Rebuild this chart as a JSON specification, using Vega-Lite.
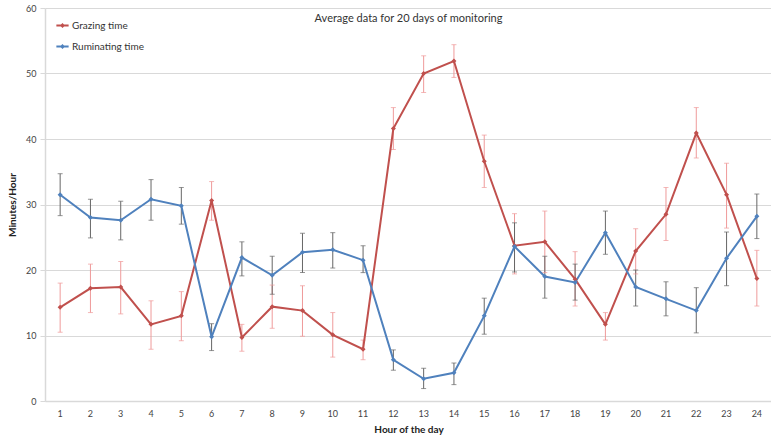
{
  "$schema": "https://vega.github.io/schema/vega-lite/v6.json",
  "autosize": "none",
  "width": 727,
  "height": 393,
  "padding": {"left": 45, "top": 8, "right": 0, "bottom": 38},
  "background": "white",
  "config": {
    "view": {"stroke": null},
    "font": "Lato",
    "axis": {"labelFont": "Lato", "titleFont": "Lato", "labelColor": "#444", "titleColor": "#222"}
  },
  "title": {"text": "Average data for 20 days of monitoring", "orient": "top", "anchor": "middle", "frame": "group", "offset": -20, "fontSize": 11, "fontWeight": "normal", "color": "#333", "font": "Lato"},
  "data": {"values": [
    {"hour": 1, "series": "Grazing time", "value": 14.3, "lo": 10.5, "hi": 18.0},
    {"hour": 2, "series": "Grazing time", "value": 17.2, "lo": 13.5, "hi": 20.9},
    {"hour": 3, "series": "Grazing time", "value": 17.4, "lo": 13.3, "hi": 21.3},
    {"hour": 4, "series": "Grazing time", "value": 11.7, "lo": 7.9, "hi": 15.3},
    {"hour": 5, "series": "Grazing time", "value": 13.0, "lo": 9.2, "hi": 16.7},
    {"hour": 6, "series": "Grazing time", "value": 30.6, "lo": 27.6, "hi": 33.5},
    {"hour": 7, "series": "Grazing time", "value": 9.7, "lo": 7.6, "hi": 11.7},
    {"hour": 8, "series": "Grazing time", "value": 14.4, "lo": 11.1, "hi": 17.7},
    {"hour": 9, "series": "Grazing time", "value": 13.8, "lo": 9.9, "hi": 17.6},
    {"hour": 10, "series": "Grazing time", "value": 10.1, "lo": 6.7, "hi": 13.5},
    {"hour": 11, "series": "Grazing time", "value": 7.9, "lo": 6.3, "hi": 9.3},
    {"hour": 12, "series": "Grazing time", "value": 41.6, "lo": 38.4, "hi": 44.8},
    {"hour": 13, "series": "Grazing time", "value": 50.0, "lo": 47.1, "hi": 52.7},
    {"hour": 14, "series": "Grazing time", "value": 51.9, "lo": 49.4, "hi": 54.4},
    {"hour": 15, "series": "Grazing time", "value": 36.6, "lo": 32.6, "hi": 40.6},
    {"hour": 16, "series": "Grazing time", "value": 23.7, "lo": 19.4, "hi": 28.6},
    {"hour": 17, "series": "Grazing time", "value": 24.3, "lo": 19.6, "hi": 29.0},
    {"hour": 18, "series": "Grazing time", "value": 18.6, "lo": 14.5, "hi": 22.8},
    {"hour": 19, "series": "Grazing time", "value": 11.7, "lo": 9.3, "hi": 13.5},
    {"hour": 20, "series": "Grazing time", "value": 22.9, "lo": 19.4, "hi": 26.3},
    {"hour": 21, "series": "Grazing time", "value": 28.5, "lo": 24.5, "hi": 32.6},
    {"hour": 22, "series": "Grazing time", "value": 40.9, "lo": 37.1, "hi": 44.8},
    {"hour": 23, "series": "Grazing time", "value": 31.5, "lo": 26.4, "hi": 36.3},
    {"hour": 24, "series": "Grazing time", "value": 18.7, "lo": 14.5, "hi": 23.0},
    {"hour": 1, "series": "Ruminating time", "value": 31.5, "lo": 28.3, "hi": 34.7},
    {"hour": 2, "series": "Ruminating time", "value": 28.0, "lo": 24.9, "hi": 30.8},
    {"hour": 3, "series": "Ruminating time", "value": 27.6, "lo": 24.6, "hi": 30.5},
    {"hour": 4, "series": "Ruminating time", "value": 30.8, "lo": 27.6, "hi": 33.8},
    {"hour": 5, "series": "Ruminating time", "value": 29.8, "lo": 27.0, "hi": 32.6},
    {"hour": 6, "series": "Ruminating time", "value": 9.8, "lo": 7.7, "hi": 11.8},
    {"hour": 7, "series": "Ruminating time", "value": 21.9, "lo": 19.1, "hi": 24.3},
    {"hour": 8, "series": "Ruminating time", "value": 19.2, "lo": 16.3, "hi": 22.1},
    {"hour": 9, "series": "Ruminating time", "value": 22.7, "lo": 19.6, "hi": 25.6},
    {"hour": 10, "series": "Ruminating time", "value": 23.1, "lo": 20.3, "hi": 25.7},
    {"hour": 11, "series": "Ruminating time", "value": 21.5, "lo": 19.6, "hi": 23.7},
    {"hour": 12, "series": "Ruminating time", "value": 6.3, "lo": 4.7, "hi": 7.8},
    {"hour": 13, "series": "Ruminating time", "value": 3.4, "lo": 1.9, "hi": 5.0},
    {"hour": 14, "series": "Ruminating time", "value": 4.3, "lo": 2.5, "hi": 5.8},
    {"hour": 15, "series": "Ruminating time", "value": 13.0, "lo": 10.2, "hi": 15.7},
    {"hour": 16, "series": "Ruminating time", "value": 23.6, "lo": 19.7, "hi": 27.2},
    {"hour": 17, "series": "Ruminating time", "value": 19.0, "lo": 15.7, "hi": 22.1},
    {"hour": 18, "series": "Ruminating time", "value": 18.1, "lo": 15.4, "hi": 20.9},
    {"hour": 19, "series": "Ruminating time", "value": 25.7, "lo": 22.4, "hi": 29.0},
    {"hour": 20, "series": "Ruminating time", "value": 17.4, "lo": 14.5, "hi": 20.0},
    {"hour": 21, "series": "Ruminating time", "value": 15.6, "lo": 13.0, "hi": 18.2},
    {"hour": 22, "series": "Ruminating time", "value": 13.8, "lo": 10.4, "hi": 17.3},
    {"hour": 23, "series": "Ruminating time", "value": 21.8, "lo": 17.6, "hi": 25.8},
    {"hour": 24, "series": "Ruminating time", "value": 28.2, "lo": 24.8, "hi": 31.6}
  ]},
  "encoding": {
    "x": {"field": "hour", "type": "ordinal", "title": "Hour of the day",
      "axis": {"labelAngle": 0, "ticks": false, "domainColor": "#d9d9d9", "domainWidth": 1.5, "labelFontSize": 9, "labelPadding": 8, "titleFontSize": 10, "titleFontWeight": "bold", "titlePadding": 6}}
  },
  "layer": [
    {
      "encoding": {
        "color": {"field": "series", "type": "nominal", "scale": {"domain": ["Grazing time", "Ruminating time"], "range": ["#ef9a9a", "#666666"]}, "legend": null}
      },
      "layer": [
        {
          "mark": {"type": "rule", "strokeWidth": 1},
          "encoding": {
            "y": {"field": "lo", "type": "quantitative"},
            "y2": {"field": "hi"}
          }
        },
        {
          "mark": {"type": "tick", "orient": "horizontal", "size": 5, "thickness": 1},
          "encoding": {
            "y": {"field": "lo", "type": "quantitative"}
          }
        },
        {
          "mark": {"type": "tick", "orient": "horizontal", "size": 5, "thickness": 1},
          "encoding": {
            "y": {"field": "hi", "type": "quantitative"}
          }
        }
      ]
    },
    {
      "layer": [
        {
          "mark": {"type": "line", "strokeWidth": 2},
          "encoding": {}
        },
        {
          "mark": {"type": "point", "shape": "diamond", "filled": true, "size": 25, "opacity": 1},
          "encoding": {}
        }
      ],
      "encoding": {
        "y": {"field": "value", "type": "quantitative", "title": "Minutes/Hour",
          "scale": {"domain": [0, 60], "nice": false},
          "axis": {"values": [0, 10, 20, 30, 40, 50, 60], "gridColor": "#d9d9d9", "gridWidth": 1.2, "domainColor": "#d9d9d9", "domainWidth": 1.5, "tickColor": "#d9d9d9", "tickSize": 5, "labelFontSize": 9, "labelPadding": 4, "titleFontSize": 10, "titleFontWeight": "bold", "titlePadding": 8}},
        "color": {"field": "series", "type": "nominal",
          "scale": {"domain": ["Grazing time", "Ruminating time"], "range": ["#c0504d", "#4f81bd"]},
          "legend": {"title": null, "orient": "none", "legendX": 10, "legendY": 10, "labelFontSize": 10, "labelColor": "#333", "symbolType": "M-1,0L1,0M0,-0.18L0.18,0L0,0.18L-0.18,0Z", "symbolStrokeWidth": 2, "symbolSize": 150, "rowPadding": 8, "labelOffset": 2}}
      }
    }
  ],
  "resolve": {"scale": {"color": "independent"}}
}
